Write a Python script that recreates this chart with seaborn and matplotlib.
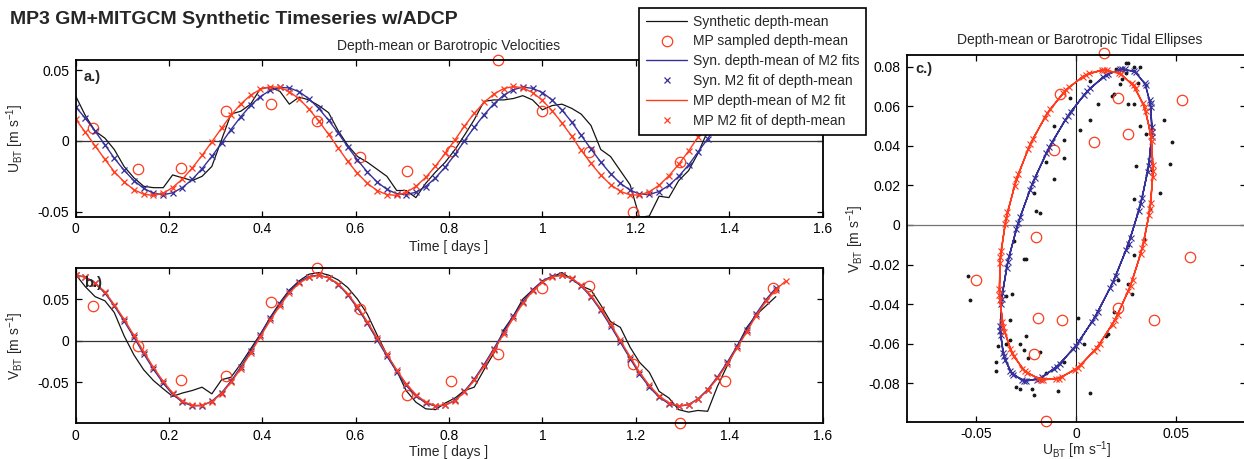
import matplotlib
matplotlib.use("Agg")
import matplotlib.pyplot as plt
from matplotlib.ticker import FuncFormatter
import seaborn as sns

# half-hourly sample times [days]
t_days = [0.000, 0.021, 0.042, 0.063, 0.083, 0.104, 0.125, 0.146, 0.167, 0.188,
          0.208, 0.229, 0.250, 0.271, 0.292, 0.313, 0.333, 0.354, 0.375, 0.396,
          0.417, 0.438, 0.458, 0.479, 0.500, 0.521, 0.542, 0.563, 0.583, 0.604,
          0.625, 0.646, 0.667, 0.688, 0.708, 0.729, 0.750, 0.771, 0.792, 0.813,
          0.833, 0.854, 0.875, 0.896, 0.917, 0.938, 0.958, 0.979, 1.000, 1.021,
          1.042, 1.063, 1.083, 1.104, 1.125, 1.146, 1.167, 1.188, 1.208, 1.229,
          1.250, 1.271, 1.292, 1.313, 1.333, 1.354, 1.375, 1.396, 1.417, 1.438,
          1.458, 1.479, 1.500, 1.521]

# synthetic depth-mean (black)
u_syn = [0.032, 0.018, 0.007, 0.002, -0.006, -0.018, -0.026, -0.032, -0.033, -0.033,
         -0.024, -0.026, -0.028, -0.025, -0.018, 0.001, 0.019, 0.021, 0.026, 0.037,
         0.038, 0.035, 0.026, 0.031, 0.029, 0.025, 0.020, 0.007, -0.003, -0.011,
         -0.015, -0.020, -0.025, -0.035, -0.035, -0.040, -0.030, -0.022, -0.015, -0.006,
         0.004, 0.015, 0.028, 0.029, 0.029, 0.030, 0.032, 0.029, 0.022, 0.025,
         0.026, 0.023, 0.019, 0.011, -0.006, -0.011, -0.021, -0.031, -0.054, -0.053,
         -0.039, -0.040, -0.028, -0.021, -0.009, 0.007, 0.016, 0.026, 0.034, 0.042,
         0.047, 0.048, 0.044]
v_syn = [0.080, 0.065, 0.053, 0.048, 0.034, 0.006, -0.017, -0.035, -0.048, -0.058,
         -0.067, -0.063, -0.060, -0.056, -0.064, -0.047, -0.044, -0.028, -0.010, 0.008,
         0.028, 0.046, 0.061, 0.072, 0.080, 0.082, 0.079, 0.073, 0.064, 0.050,
         0.032, 0.007, -0.017, -0.036, -0.060, -0.074, -0.082, -0.083, -0.075, -0.069,
         -0.060, -0.056, -0.035, -0.015, 0.013, 0.030, 0.050, 0.061, 0.071, 0.077,
         0.082, 0.074, 0.066, 0.061, 0.043, 0.023, 0.016, -0.008, -0.026, -0.038,
         -0.061, -0.069, -0.083, -0.086, -0.084, -0.085, -0.055, -0.030, -0.007, 0.016,
         0.031, 0.042, 0.053]

# Syn. M2 fit of depth-mean (blue)
u_fit_syn = [0.0242, 0.0161, 0.0069, -0.0027, -0.0121, -0.0207, -0.0280, -0.0335, -0.0369, -0.0380,
             -0.0366, -0.0329, -0.0272, -0.0196, -0.0109, -0.0014, 0.0081, 0.0171, 0.0251, 0.0314,
             0.0358, 0.0378, 0.0375, 0.0348, 0.0298, 0.0230, 0.0147, 0.0055, -0.0041, -0.0134,
             -0.0219, -0.0290, -0.0342, -0.0373, -0.0379, -0.0362, -0.0322, -0.0261, -0.0184, -0.0095,
             0.0001, 0.0096, 0.0185, 0.0262, 0.0323, 0.0363, 0.0380, 0.0372, 0.0342, 0.0289,
             0.0218, 0.0133, 0.0040, -0.0056, -0.0149, -0.0231, -0.0299, -0.0348, -0.0375, -0.0378,
             -0.0357, -0.0314, -0.0250, -0.0170, -0.0080, 0.0016, 0.0110, 0.0198, 0.0272, 0.0330,
             0.0367, 0.0380, 0.0369]
v_fit_syn = [0.0790, 0.0765, 0.0691, 0.0573, 0.0419, 0.0238, 0.0042, -0.0156, -0.0345, -0.0512,
             -0.0646, -0.0739, -0.0785, -0.0782, -0.0728, -0.0627, -0.0488, -0.0317, -0.0126, 0.0073,
             0.0268, 0.0445, 0.0594, 0.0706, 0.0772, 0.0789, 0.0757, 0.0676, 0.0552, 0.0393,
             0.0209, 0.0011, -0.0187, -0.0374, -0.0536, -0.0664, -0.0750, -0.0788, -0.0777, -0.0716,
             -0.0609, -0.0463, -0.0288, -0.0095, 0.0104, 0.0297, 0.0470, 0.0614, 0.0719, 0.0778,
             0.0788, 0.0747, 0.0659, 0.0529, 0.0365, 0.0178, -0.0020, -0.0216, -0.0400, -0.0558,
             -0.0680, -0.0759, -0.0790, -0.0770, -0.0701, -0.0588, -0.0438, -0.0260, -0.0065, 0.0134,
             0.0325, 0.0495, 0.0633]

# MP M2 fit of depth-mean (red)
u_fit_mp = [0.0155, 0.0062, -0.0035, -0.0130, -0.0217, -0.0289, -0.0344, -0.0376, -0.0385, -0.0369,
            -0.0329, -0.0269, -0.0191, -0.0102, -0.0006, 0.0091, 0.0182, 0.0261, 0.0323, 0.0365,
            0.0384, 0.0378, 0.0349, 0.0297, 0.0226, 0.0141, 0.0047, -0.0050, -0.0144, -0.0229,
            -0.0299, -0.0350, -0.0379, -0.0384, -0.0364, -0.0321, -0.0258, -0.0178, -0.0087, 0.0009,
            0.0105, 0.0195, 0.0272, 0.0331, 0.0370, 0.0385, 0.0375, 0.0342, 0.0287, 0.0214,
            0.0127, 0.0032, -0.0065, -0.0158, -0.0241, -0.0308, -0.0356, -0.0381, -0.0382, -0.0359,
            -0.0313, -0.0246, -0.0165, -0.0072, 0.0025, 0.0120, 0.0208, 0.0282, 0.0339, 0.0374,
            0.0385, 0.0372, 0.0335, 0.0277]
v_fit_mp = [0.0785, 0.0767, 0.0698, 0.0586, 0.0435, 0.0259, 0.0065, -0.0132, -0.0322, -0.0491,
            -0.0629, -0.0727, -0.0778, -0.0780, -0.0733, -0.0637, -0.0503, -0.0336, -0.0148, 0.0050,
            0.0244, 0.0423, 0.0575, 0.0692, 0.0762, 0.0785, 0.0759, 0.0684, 0.0565, 0.0411,
            0.0230, 0.0034, -0.0164, -0.0352, -0.0516, -0.0648, -0.0739, -0.0781, -0.0776, -0.0722,
            -0.0620, -0.0479, -0.0307, -0.0117, 0.0080, 0.0274, 0.0449, 0.0596, 0.0705, 0.0769,
            0.0785, 0.0750, 0.0668, 0.0543, 0.0383, 0.0199, 0.0003, -0.0193, -0.0378, -0.0539,
            -0.0664, -0.0748, -0.0784, -0.0770, -0.0708, -0.0599, -0.0454, -0.0280, -0.0088, 0.0110,
            0.0302, 0.0474, 0.0615, 0.0718]

# MP sampled depth-mean (red circles)
mp_t = [0.038, 0.133, 0.226, 0.323, 0.418, 0.517, 0.609, 0.710,
        0.804, 0.904, 1.000, 1.100, 1.195, 1.294, 1.391, 1.494]
mp_u = [0.009, -0.020, -0.019, 0.021, 0.026, 0.014, -0.011, -0.021,
        -0.007, 0.057, 0.021, -0.008, -0.050, -0.015, 0.039, 0.053]
mp_v = [0.042, -0.006, -0.047, -0.042, 0.046, 0.087, 0.038, -0.065,
        -0.048, -0.016, 0.064, 0.066, -0.028, -0.099, -0.048, 0.063]

time_ticks = [0, 0.2, 0.4, 0.6, 0.8, 1, 1.2, 1.4, 1.6]

BLACK = "#141414"
BLUE = "#35309a"
RED = "#ff3c1e"
FS = 10

sns.set_theme(style="ticks")
plt.rcParams["font.family"] = ["Liberation Sans", "DejaVu Sans"]
plt.rcParams.update({
    "axes.unicode_minus": False,
    "xtick.direction": "in", "ytick.direction": "in",
    "xtick.top": True, "ytick.right": True,
    "xtick.major.size": 4, "ytick.major.size": 4,
    "xtick.major.width": 0.9, "ytick.major.width": 0.9,
    "xtick.major.pad": 4, "ytick.major.pad": 4.5,
    "xtick.labelsize": FS, "ytick.labelsize": FS,
    "axes.linewidth": 1.3, "axes.edgecolor": "black",
    "xtick.color": "black", "ytick.color": "black",
})

W, H = 1244, 459
fig = plt.figure(figsize=(W / 100, H / 100), dpi=100)


def frac(left, top, right, bottom):
    return [left / W, 1 - bottom / H, (right - left) / W, (bottom - top) / H]


ax_a = fig.add_axes(frac(75.5, 60, 822.5, 216.7))
ax_b = fig.add_axes(frac(75.5, 268, 822.5, 423))
ax_c = fig.add_axes(frac(906.7, 55, 1245.7, 421.7))
fmt = FuncFormatter(lambda v, p: "%g" % round(v, 4))

n_syn = len(u_syn)
n_fit = len(u_fit_syn)
ylab_u = r"U$_{\mathregular{BT}}$ [m s$^{\mathregular{-1}}$]"
ylab_v = r"V$_{\mathregular{BT}}$ [m s$^{\mathregular{-1}}$]"


def timeseries(ax, syn, mp, fit_syn, fit_mp, labels):
    ax.axhline(0, color="0.2", lw=0.9, zorder=1)
    sns.lineplot(x=t_days[:n_syn], y=syn, ax=ax, color=BLACK, lw=0.9,
                 estimator=None, label=labels[0])
    sns.lineplot(x=mp_t, y=mp, ax=ax, estimator=None, linestyle="", marker="o",
                 ms=7.5, mfc="none", mec=RED, mew=0.9, color=RED,
                 clip_on=False, label=labels[1])
    sns.lineplot(x=t_days[:n_fit], y=fit_syn, ax=ax, color=BLUE, lw=1.0,
                 estimator=None, label=labels[2])
    sns.lineplot(x=t_days[:n_fit], y=fit_syn, ax=ax, estimator=None, linestyle="",
                 marker="x", ms=4.5, mec=BLUE, mew=0.9, color=BLUE, label=labels[3])
    sns.lineplot(x=t_days, y=fit_mp, ax=ax, color=RED, lw=1.0,
                 estimator=None, label=labels[4])
    sns.lineplot(x=t_days, y=fit_mp, ax=ax, estimator=None, linestyle="",
                 marker="x", ms=4.5, mec=RED, mew=0.9, color=RED, label=labels[5])
    ax.set_xlim(0, 1.6)
    ax.set_xticks(time_ticks)
    ax.set_yticks([-0.05, 0, 0.05])
    ax.xaxis.set_major_formatter(fmt)
    ax.yaxis.set_major_formatter(fmt)
    ax.set_xlabel("Time [ days ]", fontsize=FS)


legend_labels = ["Synthetic depth-mean", "MP sampled depth-mean",
                 "Syn. depth-mean of M2 fits", "Syn. M2 fit of depth-mean",
                 "MP depth-mean of M2 fit", "MP M2 fit of depth-mean"]

timeseries(ax_a, u_syn, mp_u, u_fit_syn, u_fit_mp, legend_labels)
ax_a.set_ylim(-0.0535, 0.0572)
ax_a.set_ylabel(ylab_u, fontsize=FS)
ax_a.xaxis.set_label_coords(0.5, -0.15)
ax_a.yaxis.set_label_coords(-0.066, 0.5)
ax_a.text(0.011, 0.893, "a.)", transform=ax_a.transAxes, fontsize=10.5,
          fontweight="bold", ha="left", va="center")

timeseries(ax_b, v_syn, mp_v, v_fit_syn, v_fit_mp, [None] * 6)
ax_b.set_ylim(-0.0991, 0.0875)
ax_b.set_ylabel(ylab_v, fontsize=FS)
ax_b.xaxis.set_label_coords(0.5, -0.142)
ax_b.yaxis.set_label_coords(-0.066, 0.5)
ax_b.text(0.011, 0.903, "b.)", transform=ax_b.transAxes, fontsize=10.5,
          fontweight="bold", ha="left", va="center")

handles, labels = ax_a.get_legend_handles_labels()
for a in (ax_a, ax_b):
    if a.get_legend() is not None:
        a.get_legend().remove()
leg = ax_a.legend(handles, labels, loc="upper left",
                  bbox_to_anchor=(639 / W, 1 - 8 / H), bbox_transform=fig.transFigure,
                  fontsize=FS, frameon=True, fancybox=False, framealpha=1,
                  edgecolor="black", borderaxespad=0, borderpad=0.48,
                  labelspacing=0.42, handlelength=3.0, handletextpad=0.4)
leg.get_frame().set_linewidth(1.2)
leg.set_zorder(10)

# tidal ellipses
ax_c.axhline(0, color="0.45", lw=0.9, zorder=1)
ax_c.axvline(0, color="0.1", lw=0.8, zorder=1)
sns.lineplot(x=u_syn, y=v_syn, ax=ax_c, estimator=None, sort=False, linestyle="",
             marker="o", ms=2, mec=BLACK, mfc=BLACK, color=BLACK, legend=False)
sns.lineplot(x=mp_u, y=mp_v, ax=ax_c, estimator=None, sort=False, linestyle="",
             marker="o", ms=7.5, mfc="none", mec=RED, mew=0.9, color=RED,
             clip_on=False, legend=False)
sns.lineplot(x=u_fit_syn, y=v_fit_syn, ax=ax_c, estimator=None, sort=False,
             color=BLUE, lw=1.0, legend=False)
sns.lineplot(x=u_fit_syn, y=v_fit_syn, ax=ax_c, estimator=None, sort=False,
             linestyle="", marker="x", ms=4.5, mec=BLUE, mew=0.8, color=BLUE, legend=False)
sns.lineplot(x=u_fit_mp, y=v_fit_mp, ax=ax_c, estimator=None, sort=False,
             color=RED, lw=1.0, legend=False)
sns.lineplot(x=u_fit_mp, y=v_fit_mp, ax=ax_c, estimator=None, sort=False,
             linestyle="", marker="x", ms=4.5, mec=RED, mew=0.8, color=RED, legend=False)
ax_c.set_xlim(-0.0847, 0.0848)
ax_c.set_ylim(-0.0994, 0.0859)
ax_c.set_xticks([-0.05, 0, 0.05])
ax_c.set_yticks([-0.08, -0.06, -0.04, -0.02, 0, 0.02, 0.04, 0.06, 0.08])
ax_c.xaxis.set_major_formatter(fmt)
ax_c.yaxis.set_major_formatter(fmt)
ax_c.set_xlabel(ylab_u, fontsize=FS)
ax_c.set_ylabel(ylab_v, fontsize=FS)
ax_c.xaxis.set_label_coords(0.5, -0.047)
ax_c.yaxis.set_label_coords(-0.12, 0.5)
ax_c.text(0.025, 0.962, "c.)", transform=ax_c.transAxes, fontsize=10.5,
          fontweight="bold", ha="left", va="center")

fig.text(10 / W, 1 - 20 / H, "MP3 GM+MITGCM Synthetic Timeseries w/ADCP",
         fontsize=14, fontweight="bold", ha="left", va="center")
fig.text(449 / W, 1 - 46 / H, "Depth-mean or Barotropic Velocities",
         fontsize=FS, ha="center", va="center")
fig.text(1080 / W, 1 - 40 / H, "Depth-mean or Barotropic Tidal Ellipses",
         fontsize=FS, ha="center", va="center")

fig.savefig("out.png", dpi=100)
